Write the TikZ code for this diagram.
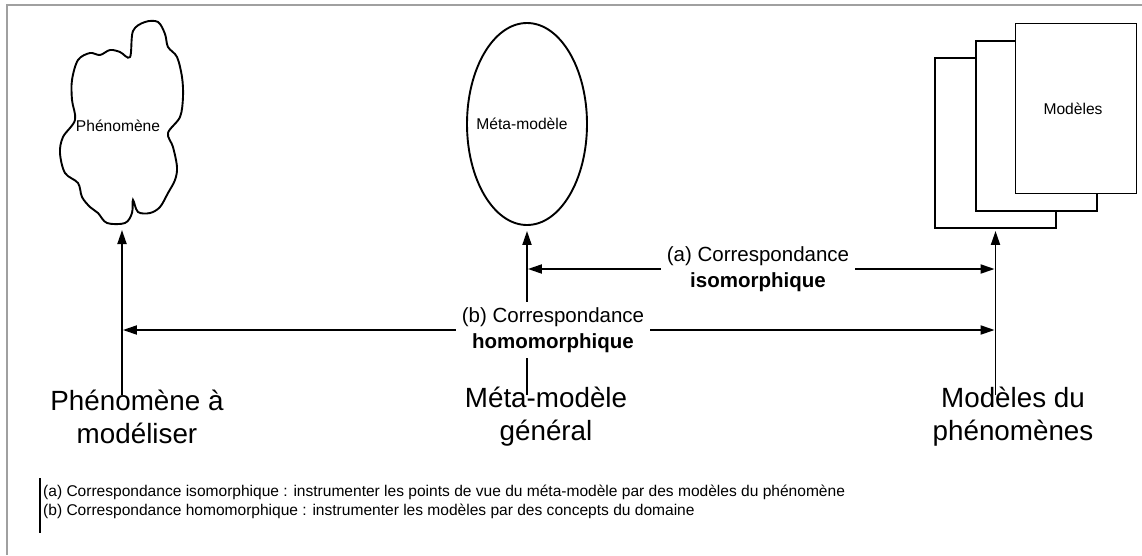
\documentclass[tikz,border=0pt]{standalone}
\usepackage{fontspec}
\setmainfont{Liberation Sans}
\usetikzlibrary{shapes.geometric,arrows.meta}
\definecolor{framegray}{RGB}{160,160,160}
\begin{document}
\begin{tikzpicture}[x=1pt,y=-1pt,
  outline/.style={draw, line width=1.9pt},
  arr/.style={line width=1.9pt, -{Triangle[length=14pt,width=9pt]}},
  darr/.style={line width=1.9pt, {Triangle[length=14pt,width=9pt]}-{Triangle[length=14pt,width=9pt]}, shorten <=0.9pt, shorten >=0.9pt},
  small/.style={font=\fontsize{15.6}{19}\selectfont},
  foot/.style={font=\fontsize{15.55}{19.5}\selectfont, align=left, inner sep=0pt},
  big/.style={font=\fontsize{27.8}{33}\selectfont, align=center},
  mid/.style={font=\fontsize{20.5}{26}\selectfont, align=center, fill=white, inner xsep=6pt, inner ysep=5pt},
  pagebox/.style={outline, fill=white, minimum width=121pt, minimum height=170pt, inner sep=0pt}]
\useasboundingbox (0,0) rectangle (1142,555);
\draw[line width=2pt, framegray] (7,555) -- (7,5) -- (1142,5);

% cloud
\draw[outline, fill=white] plot[smooth cycle, tension=0.55] coordinates {(130,57) (133,31) (145,22) (158,22) (165,34) (168,47) (177,57) (182,77) (183,97) (180,117) (168,133) (173,147) (177,167) (175,180) (168,193) (160,207) (150,213) (138,212) (133,200) (132,213) (125,223) (107,223) (98,213) (90,207) (82,197) (78,183) (65,173) (60,153) (63,137) (75,120) (72,100) (72,80) (78,60) (90,53) (100,55) (110,50) (120,52)};
\node[small] (phen) at (118,126) {Phénomène};
\coordinate (phenbot) at (122,230);

% ellipse
\node[ellipse, outline, minimum width=120pt, minimum height=202pt, inner sep=0pt, small] (meta) at (527,124) {\hspace*{-10pt}Méta-modèle};

% pages
\node[pagebox] (back) at (995.5,143) {};
\node[pagebox] (midp) at (1036.5,126) {};
\node[pagebox, small] (front) at (1076,108.5) {\hspace*{-6pt}Modèles};

% bottom labels
\node[big] (lphen) at (137,417) {Phénomène à\\modéliser};
\node[big] (lmeta) at (546,417) {Méta-modèle\\général};
\node[big] (lmod) at (1013,417) {Modèles du\\phénomènes};

\coordinate (p0) at (122,395);
\coordinate (m0) at (527,395);
\coordinate (d0) at (995.5,395);
\draw[arr] (p0) -- (phenbot);
\draw[arr, shorten >=5pt] (m0) -- (meta.south);
\draw[arr, shorten >=2pt] (d0) -- (back.south);

\coordinate (ma) at (527,269);
\coordinate (da) at (995.5,269);
\coordinate (pb) at (122,330);
\coordinate (db) at (995.5,330);
\draw[darr] (ma) -- (da);
\draw[darr] (pb) -- (db);

\node[mid] (la) at (758,269) {(a) Correspondance\\\textbf{isomorphique}};
\node[mid] (lb) at (553,330) {(b) Correspondance\\\textbf{homomorphique}};

% footnote
\coordinate (fb1) at (40,478);
\coordinate (fb2) at (40,533);
\draw[line width=1.5pt] (fb1) -- (fb2);
\node[foot, anchor=west] (fn) at (43,502) {(a) Correspondance isomorphique : instrumenter les points de vue du méta-modèle par des modèles du phénomène\\(b) Correspondance homomorphique : instrumenter les modèles par des concepts du domaine};
\end{tikzpicture}
\end{document}
